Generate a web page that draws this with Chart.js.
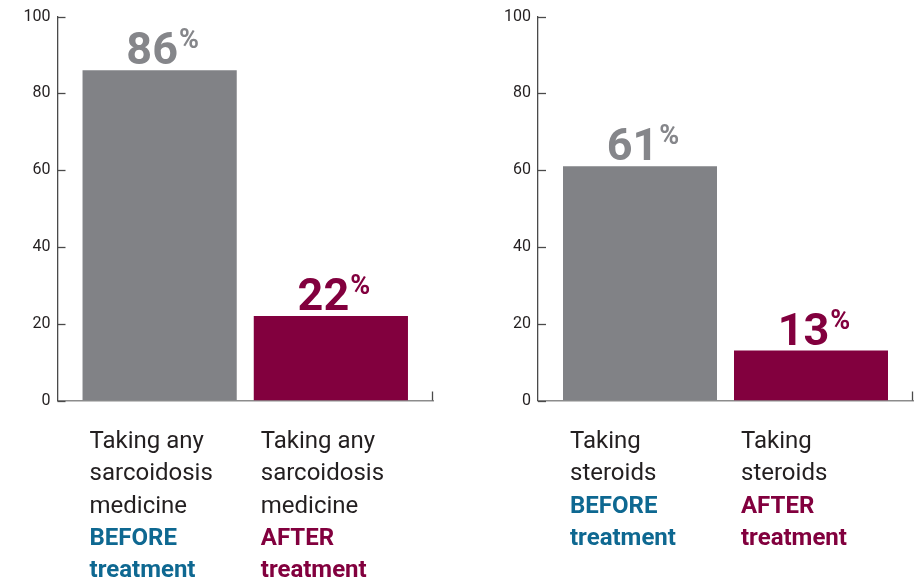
<!DOCTYPE html>
<html>
<head>
<meta charset="utf-8">
<script src="https://cdn.jsdelivr.net/npm/chart.js@4"></script>
<style>
  html, body { margin: 0; padding: 0; background: #fff; }
  .wrap { position: absolute; top: 0; width: 459px; height: 579px; }
</style>
</head>
<body>
<div class="wrap" style="left:0"><canvas id="chart-any" width="459" height="579"></canvas></div>
<div class="wrap" style="left:459px"><canvas id="chart-steroids" width="459" height="579"></canvas></div>
<script>
const categories = ['Taking any sarcoidosis medicine', 'Taking steroids'];
const categoryLines = [
    ['Taking any', 'sarcoidosis', 'medicine'],
    ['Taking', 'steroids']
];
const seriesNames = ['BEFORE', 'AFTER'];
const beforeValues = [86, 61];
const afterValues = [22, 13];
const yTicks = [0, 20, 40, 60, 80, 100];

const barColors = ['rgb(129, 130, 134)', 'rgb(130, 0, 62)'];
const valueColors = ['rgb(133, 134, 138)', 'rgb(130, 0, 62)'];
const seriesTextColors = ['rgb(14, 104, 145)', 'rgb(130, 0, 62)'];
const textDark = '#231f20';

// inside tick marks on the y axis + end tick on the x axis
const axisMarks = {
    id: 'axisMarks',
    afterDraw(chart) {
        const ctx = chart.ctx;
        const area = chart.chartArea;
        const y = chart.scales.y;
        ctx.save();
        ctx.strokeStyle = '#4a4a4a';
        ctx.lineWidth = 1.3;
        y.ticks.forEach(t => {
            const py = Math.round(y.getPixelForValue(t.value)) + 0.5;
            ctx.beginPath();
            ctx.moveTo(area.left, py);
            ctx.lineTo(area.left + 8, py);
            ctx.stroke();
        });
        ctx.beginPath();
        ctx.moveTo(area.right - 0.5, area.bottom);
        ctx.lineTo(area.right - 0.5, area.bottom - 9);
        ctx.stroke();
        ctx.restore();
    }
};

// big value labels and the multi-line category captions
const barTexts = {
    id: 'barTexts',
    afterDatasetsDraw(chart) {
        const ctx = chart.ctx;
        const idx = chart.options.catIndex;
        ctx.save();
        chart.data.datasets.forEach((ds, i) => {
            const bar = chart.getDatasetMeta(i).data[0];
            const v = ds.data[0];

            // value
            ctx.textBaseline = 'alphabetic';
            ctx.textAlign = 'left';
            ctx.font = 'bold 45px Roboto';
            const num = String(v);
            const wNum = ctx.measureText(num).width;
            ctx.font = 'bold 27px Roboto';
            const wPct = ctx.measureText('%').width;
            const x0 = bar.x - (wNum + 1 + wPct) / 2 + 3;
            const base = bar.y - 6;
            ctx.fillStyle = valueColors[i];
            ctx.font = 'bold 45px Roboto';
            ctx.fillText(num, x0, base);
            ctx.font = 'bold 27px Roboto';
            ctx.fillText('%', x0 + wNum + 1, base - 16);

            // caption under the bar
            const left = bar.x - bar.width / 2 + 7;
            let ly = 448;
            ctx.fillStyle = textDark;
            ctx.font = '24px Roboto';
            categoryLines[idx].forEach(line => {
                ctx.fillText(line, left, ly);
                ly += 32.3;
            });
            ctx.fillStyle = seriesTextColors[i];
            ctx.font = 'bold 24px Roboto';
            ctx.fillText(seriesNames[i], left, ly);
            ly += 32.3;
            ctx.fillText('treatment', left, ly);
        });
        ctx.restore();
    }
};

function makeChart(canvasId, idx, padLeft, padRight) {
    return new Chart(document.getElementById(canvasId), {
        type: 'bar',
        data: {
            labels: [categories[idx]],
            datasets: [
                {
                    label: seriesNames[0] + ' treatment',
                    data: [beforeValues[idx]],
                    backgroundColor: barColors[0]
                },
                {
                    label: seriesNames[1] + ' treatment',
                    data: [afterValues[idx]],
                    backgroundColor: barColors[1]
                }
            ]
        },
        options: {
            catIndex: idx,
            responsive: false,
            animation: false,
            categoryPercentage: 0.912,
            barPercentage: 0.9006,
            layout: {
                padding: { top: 14.5, left: padLeft, right: padRight, bottom: 0 }
            },
            plugins: {
                legend: { display: false },
                tooltip: { enabled: false }
            },
            scales: {
                x: {
                    ticks: { display: false },
                    grid: { display: false },
                    border: { display: true, color: '#8c8c8c', width: 1.5 },
                    afterFit(scale) { scale.height = 178.5; }
                },
                y: {
                    min: 0,
                    max: 100,
                    afterBuildTicks(scale) {
                        scale.ticks = yTicks.map(v => ({ value: v }));
                    },
                    ticks: {
                        color: textDark,
                        font: { family: 'Roboto', size: 16 },
                        padding: 7
                    },
                    grid: { display: false, drawTicks: false },
                    border: { display: true, color: '#4a4a4a', width: 1.3 },
                    afterFit(scale) { scale.width = 57.5; }
                }
            }
        },
        plugins: [axisMarks, barTexts]
    });
}

makeChart('chart-any', 0, 0, 26);
makeChart('chart-steroids', 1, 21.5, 5);
</script>
</body>
</html>
